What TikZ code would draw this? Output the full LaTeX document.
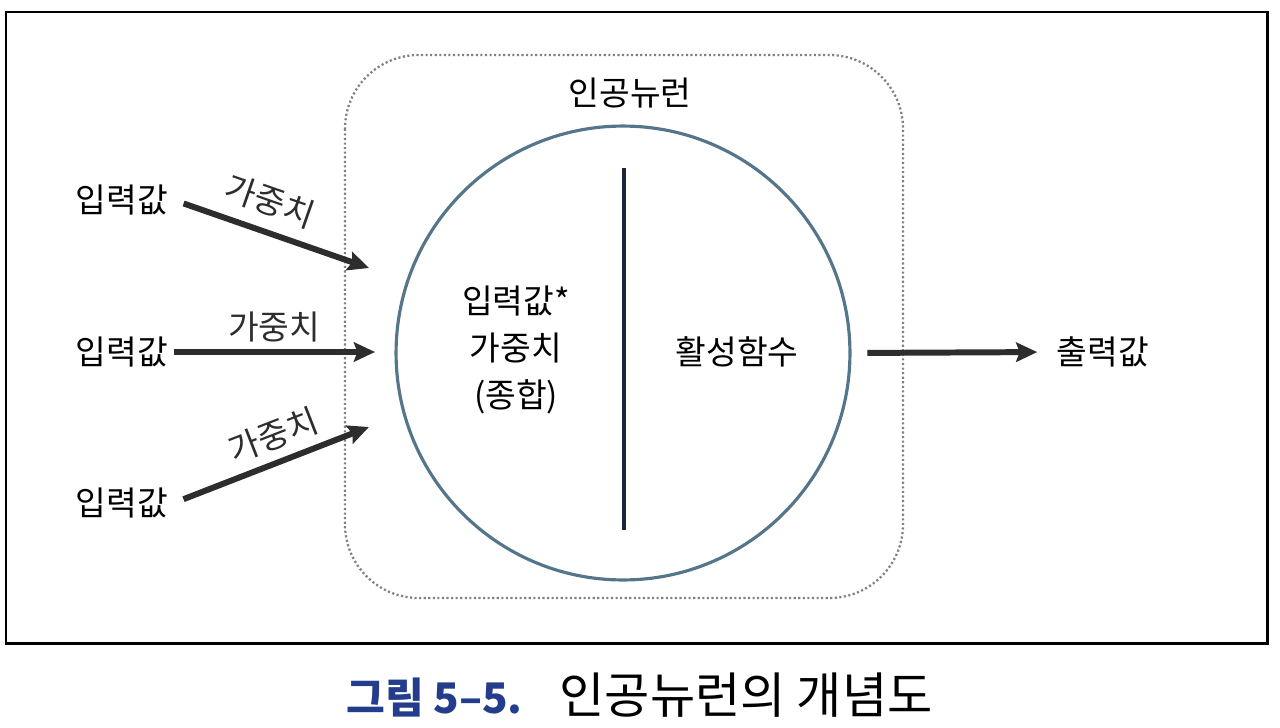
\documentclass[tikz,border=0pt]{standalone}
\usepackage{fontspec}
\setmainfont{Noto Sans CJK KR}
\usepackage{xcolor}
\usepackage{tikz}
\usetikzlibrary{arrows.meta}
\definecolor{primary}{RGB}{45, 45, 45}
\definecolor{rim}{RGB}{85, 118, 138}
\definecolor{bar}{RGB}{25, 40, 52}
\definecolor{capblue}{RGB}{35, 60, 140}

\begin{document}
\begin{tikzpicture}[x=0.02cm,y=-0.02cm,
  lbl/.style={font=\fontsize{19}{27}\selectfont,inner sep=3pt},
  feed/.style={primary,line width=3.4pt,-{Stealth[length=12pt,width=11pt,inset=2pt]}}]
\useasboundingbox (0,0) rectangle (1280,727);
\draw[line width=1.7pt] (6,12) rectangle (1267,643);
\draw[gray,line width=1.3pt,dash pattern=on 1.2pt off 1.4pt,rounded corners=42pt] (345,55) rectangle (903,598);
\node[lbl] (title) at (630,93) {인공뉴런};
\node[circle,draw=rim,line width=1.8pt,minimum size=9.08cm] (neuron) at (623,353) {};
\draw[bar,line width=2.8pt] (624,168) -- (624,530);
\node[lbl,align=center] (sum) at (516,350) {입력값*\\가중치\\(종합)};
\node[lbl] (act) at (737,352) {활성함수};
% inputs
\node[lbl] (in1) at (122,200) {입력값};
\node[lbl] (in2) at (122,352) {입력값};
\node[lbl] (in3) at (122,503) {입력값};
\coordinate (t1) at (369,268);
\coordinate (t2) at (375,352);
\coordinate (t3) at (369,427);
\draw[feed,shorten <=6pt] (in1.east) -- (t1) node[lbl,pos=0.44,above=4pt,sloped]{가중치};
\draw[feed] (in2.east) -- (t2) node[lbl,midway,above=1pt]{가중치};
\draw[feed,shorten <=6pt] (in3.east) -- (t3) node[lbl,pos=0.56,above=2pt,sloped]{가중치};
% output
\node[lbl] (out) at (1103,352) {출력값};
\draw[feed,shorten <=9pt,shorten >=8pt] (neuron.east) -- (out.west);
\node[anchor=west,font=\fontsize{28}{32}\selectfont] (caption) at (340,695)
  {{\color{capblue}\fontsize{24}{30}\selectfont\bfseries 그림 5–5.}\hspace{0.75em}인공뉴런의 개념도};
\end{tikzpicture}
\end{document}
